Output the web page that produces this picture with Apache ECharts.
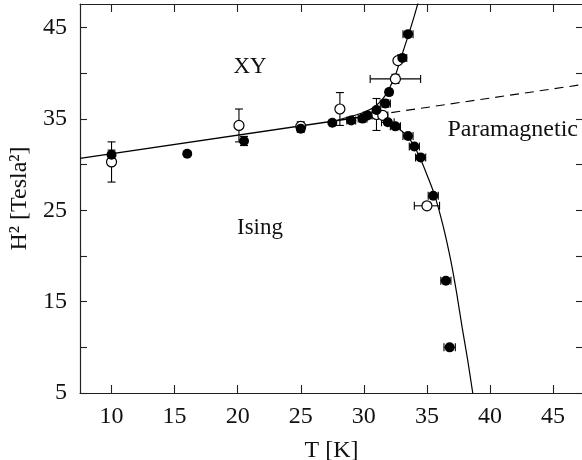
<!DOCTYPE html>
<html>
<head>
<meta charset="utf-8">
<script src="https://cdn.jsdelivr.net/npm/echarts@6/dist/echarts.min.js"></script>
<style>
html,body{margin:0;padding:0;background:#fff;}
#chart{width:582px;height:460px;}
</style>
</head>
<body>
<div id="chart"></div>
<script>
// ---- data ----
var xTicks = [10, 15, 20, 25, 30, 35, 40, 45];
var yTicks = [5, 10, 15, 20, 25, 30, 35, 40, 45];
var yLabels = [5, 15, 25, 35, 45];

// filled circles: T [K], H^2 [Tesla^2], errors
var filledT  = [10.0, 16.0, 20.5, 25.0, 27.5, 29.0, 29.9, 30.3, 31.0, 31.7, 32.0, 31.9, 32.5, 33.05, 33.5, 33.5, 34.0, 34.5, 35.5, 36.5, 36.8];
var filledH  = [31.1, 31.2, 32.6, 33.95, 34.6, 34.85, 35.05, 35.4, 36.0, 36.7, 37.95, 34.65, 34.2, 41.7, 44.3, 33.15, 32.0, 30.8, 26.6, 17.3, 10.0];
var filledDT = [0, 0, 0, 0, 0, 0.35, 0.35, 0.35, 0, 0.4, 0, 0.5, 0.4, 0.35, 0.4, 0.4, 0.4, 0.4, 0.4, 0.4, 0.45];
var filledDH = [0.5, 0, 0.5, 0.4, 0, 0.3, 0, 0, 0, 0.4, 0.3, 0.3, 0.3, 0, 0, 0, 0, 0, 0, 0, 0];

// open circles
var openT  = [10.0, 20.1, 25.0, 28.1, 31.0, 31.5, 32.5, 32.7, 35.0];
var openH  = [30.3, 34.3, 34.2, 36.1, 35.5, 35.4, 39.4, 41.4, 25.5];
var openDT = [0, 0, 0, 0, 0, 0.4, 2.0, 0, 1.0];
var openDH = [2.2, 1.8, 0.5, 1.8, 1.75, 0, 0.5, 0, 0];

// spin-flop line (solid) and its continuation (dashed)
var flopT = [7.5, 31.0];
var flopH = [30.7, 35.47];
var flopDashT = [31.0, 47.37];
var flopDashH = [35.47, 38.79];

// XY - paramagnetic boundary
var xyT = [27.4, 28.1, 29.0, 30.0, 30.8, 31.3, 31.7, 32.1, 32.5, 32.85, 33.2, 33.6, 34.0, 34.35];
var xyH = [34.6, 34.95, 35.3, 35.75, 36.3, 36.9, 37.6, 38.6, 39.8, 41.3, 42.8, 44.5, 46.3, 48.0];

// Ising - paramagnetic boundary
var isT = [30.5, 31.2, 31.9, 32.5, 33.0, 33.5, 34.0, 34.5, 35.0, 35.6, 36.3, 36.88, 37.36, 37.78, 38.23, 38.63];
var isH = [35.37, 35.15, 34.75, 34.2, 33.7, 33.05, 32.0, 30.6, 28.9, 26.7, 23.2, 19.57, 15.9, 12.26, 8.6, 5.0];

function zip(a, b) { return a.map(function (v, i) { return [v, b[i]]; }); }
function zip4(a, b, c, d) { return a.map(function (v, i) { return [v, b[i], c[i], d[i]]; }); }

var FONT = 'Liberation Serif';
var INK = '#000';
var AX = '#222';

function renderErr(params, api) {
  var t = api.value(0), h = api.value(1), ex = api.value(2), ey = api.value(3);
  var ch = [];
  var cap = 4;
  var st = { stroke: INK, lineWidth: 1.1 };
  if (ey > 0) {
    var a = api.coord([t, h - ey]), b = api.coord([t, h + ey]);
    ch.push({ type: 'line', shape: { x1: a[0], y1: a[1], x2: b[0], y2: b[1] }, style: st });
    ch.push({ type: 'line', shape: { x1: a[0] - cap, y1: a[1], x2: a[0] + cap, y2: a[1] }, style: st });
    ch.push({ type: 'line', shape: { x1: b[0] - cap, y1: b[1], x2: b[0] + cap, y2: b[1] }, style: st });
  }
  if (ex > 0) {
    var c = api.coord([t - ex, h]), d = api.coord([t + ex, h]);
    ch.push({ type: 'line', shape: { x1: c[0], y1: c[1], x2: d[0], y2: d[1] }, style: st });
    ch.push({ type: 'line', shape: { x1: c[0], y1: c[1] - cap, x2: c[0], y2: c[1] + cap }, style: st });
    ch.push({ type: 'line', shape: { x1: d[0], y1: d[1] - cap, x2: d[0], y2: d[1] + cap }, style: st });
  }
  return { type: 'group', children: ch };
}

var chart = echarts.init(document.getElementById('chart'), null, { renderer: 'canvas' });

var axisLine = { show: true, lineStyle: { color: AX, width: 1.2 } };
var tickStyle = { color: AX, width: 1.1 };

var option = {
  backgroundColor: '#fff',
  animation: false,
  grid: { left: 80, right: -1, top: 4, bottom: 67, containLabel: false, outerBoundsMode: 'none' },
  xAxis: [{
    type: 'value', position: 'bottom', min: 7.5, max: 47.37,
    axisLine: axisLine,
    axisTick: { show: true, inside: true, length: 8, lineStyle: tickStyle, customValues: xTicks },
    axisLabel: { show: true, customValues: xTicks, fontFamily: FONT, fontSize: 24, color: '#111', margin: 12 },
    splitLine: { show: false },
    name: 'T [K]', nameLocation: 'middle', nameGap: 46,
    nameTextStyle: { fontFamily: FONT, fontSize: 24, color: '#111' }
  }, {
    type: 'value', position: 'top', min: 7.5, max: 47.37,
    axisLine: axisLine,
    axisTick: { show: true, inside: true, length: 8, lineStyle: tickStyle, customValues: xTicks },
    axisLabel: { show: false },
    splitLine: { show: false }
  }],
  yAxis: [{
    type: 'value', position: 'left', min: 5, max: 47.6,
    axisLine: axisLine,
    axisTick: { show: true, inside: true, length: 7, lineStyle: tickStyle, customValues: yTicks },
    axisLabel: { show: true, customValues: yLabels, fontFamily: FONT, fontSize: 24, color: '#111', margin: 13 },
    splitLine: { show: false },
    name: 'H\u00B2 [Tesla\u00B2]', nameLocation: 'middle', nameGap: 48,
    nameTextStyle: { fontFamily: FONT, fontSize: 24, color: '#111' }
  }, {
    type: 'value', position: 'right', min: 5, max: 47.6,
    axisLine: { show: false },
    axisTick: { show: true, inside: true, length: 7, lineStyle: tickStyle, customValues: yTicks },
    axisLabel: { show: false },
    splitLine: { show: false }
  }],
  graphic: [
    { type: 'text', x: 250, y: 67, style: { text: 'XY', font: '23px "Liberation Serif"', fill: '#111', textAlign: 'center', textVerticalAlign: 'middle' } },
    { type: 'text', x: 260, y: 228, style: { text: 'Ising', font: '23px "Liberation Serif"', fill: '#111', textAlign: 'center', textVerticalAlign: 'middle' } },
    { type: 'text', x: 578, y: 130, style: { text: 'Paramagnetic', font: '24px "Liberation Serif"', fill: '#111', textAlign: 'right', textVerticalAlign: 'middle' } }
  ],
  series: [
    { type: 'line', data: zip(flopT, flopH), symbol: 'none', lineStyle: { color: INK, width: 1.3 }, z: 2 },
    { type: 'line', data: zip(flopDashT, flopDashH), symbol: 'none', lineStyle: { color: INK, width: 1.1, type: [9, 6] }, z: 2 },
    { type: 'line', data: zip(xyT, xyH), symbol: 'none', smooth: 0.3, lineStyle: { color: INK, width: 1.2 }, z: 2 },
    { type: 'line', data: zip(isT, isH), symbol: 'none', smooth: 0.3, lineStyle: { color: INK, width: 1.2 }, z: 2 },
    { type: 'custom', renderItem: renderErr, data: zip4(openT, openH, openDT, openDH), z: 3, clip: true },
    { type: 'custom', renderItem: renderErr, data: zip4(filledT, filledH, filledDT, filledDH), z: 3, clip: true },
    { type: 'scatter', data: zip(openT, openH), symbol: 'circle', symbolSize: 10,
      itemStyle: { color: '#fff', borderColor: INK, borderWidth: 1.2, opacity: 1 }, z: 4 },
    { type: 'scatter', data: zip(filledT, filledH), symbol: 'circle', symbolSize: 10,
      itemStyle: { color: INK, borderColor: INK, borderWidth: 0, opacity: 1 }, z: 5 }
  ]
};
chart.setOption(option);
</script>
</body>
</html>
